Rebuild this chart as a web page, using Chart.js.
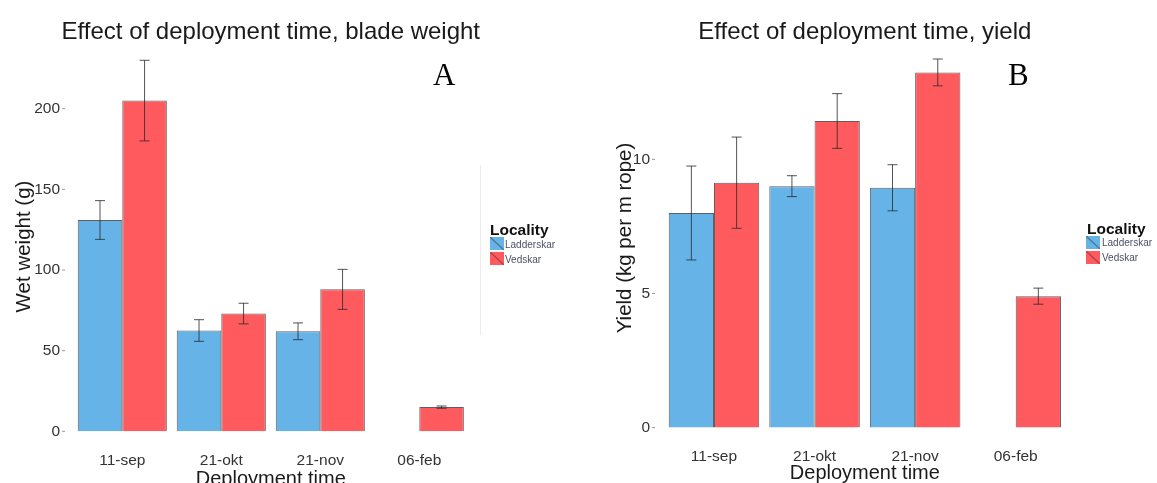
<!DOCTYPE html>
<html>
<head>
<meta charset="utf-8">
<script src="https://cdn.jsdelivr.net/npm/chart.js@4"></script>
<style>
  body { margin: 0; background: #fff; overflow: hidden; }
  #wrap { position: relative; width: 1157px; height: 483px; overflow: hidden; background: #fff; }
  canvas { position: absolute; top: 0; }
  .letter { position: absolute; font-family: "Liberation Serif", "DejaVu Serif", serif; font-size: 31px; line-height: 31px; color: #000; }
  .legTitle { position: absolute; font-family: "Liberation Sans", Arial, sans-serif; font-weight: bold; font-size: 15.5px; line-height: 15px; color: #111; }
  .key { position: absolute; width: 14px; height: 13px; }
  .legText { position: absolute; font-family: "Liberation Sans", Arial, sans-serif; font-size: 10px; line-height: 10px; color: #4a4f66; }
</style>
</head>
<body>
<div id="wrap">
  <canvas id="chartA" width="580" height="510" style="left:0"></canvas>
  <canvas id="chartB" width="577" height="510" style="left:580px"></canvas>

  <div class="letter" style="left:433px; top:59px">A</div>
  <div class="letter" style="left:1008px; top:59px">B</div>

  <div style="position:absolute; left:480px; top:165px; width:1px; height:170px; background:#ececec"></div>

  <div class="legTitle" style="left:490px; top:222px">Locality</div>
  <div class="key" style="left:490px; top:237px; background:linear-gradient(to top right,#66b3e8 44%,#4d7f9e 48%,#4d7f9e 52%,#66b3e8 56%)"></div>
  <div class="key" style="left:490px; top:252px; background:linear-gradient(to top right,#ff5b5f 44%,#b5454a 48%,#b5454a 52%,#ff5b5f 56%)"></div>
  <div class="legText" style="left:505px; top:240px">Ladderskar</div>
  <div class="legText" style="left:505px; top:255px">Vedskar</div>

  <div class="legTitle" style="left:1087px; top:221px">Locality</div>
  <div class="key" style="left:1086px; top:236px; background:linear-gradient(to top right,#66b3e8 44%,#4d7f9e 48%,#4d7f9e 52%,#66b3e8 56%)"></div>
  <div class="key" style="left:1086px; top:251px; background:linear-gradient(to top right,#ff5b5f 44%,#b5454a 48%,#b5454a 52%,#ff5b5f 56%)"></div>
  <div class="legText" style="left:1102px; top:238px">Ladderskar</div>
  <div class="legText" style="left:1102px; top:253px">Vedskar</div>
</div>

<script>
// deployment dates
const categories = ['11-sep', '21-okt', '21-nov', '06-feb'];

// panel A: wet weight (g)
const weightLadderskar = [131, 62.5, 62, null];
const weightLadderskarErr = [12, 6.7, 5.2, null];
const weightVedskar = [205, 73, 88, 15];
const weightVedskarErr = [25, 6.4, 12.4, 0.7];
const weightTicks = [0, 50, 100, 150, 200];

// panel B: yield (kg per m rope)
const yieldLadderskar = [8.0, 9.0, 8.94, null];
const yieldLadderskarErr = [1.75, 0.39, 0.86, null];
const yieldVedskar = [9.13, 11.43, 13.24, 4.9];
const yieldVedskarErr = [1.7, 1.02, 0.5, 0.3];
const yieldTicks = [0, 5, 10];

const BLUE = '#66b3e8';
const RED = '#ff5b5f';
const FONT = '"Liberation Sans", Arial, sans-serif';

// error bars + small y tick marks
const errorBars = {
  id: 'errorBars',
  afterDatasetsDraw(chart) {
    const ctx = chart.ctx;
    const y = chart.scales.y;
    ctx.save();
    chart.data.datasets.forEach((ds, i) => {
      const meta = chart.getDatasetMeta(i);
      meta.data.forEach((bar, j) => {
        const v = ds.data[j];
        const e = ds.err[j];
        if (v == null || e == null) return;
        const top = y.getPixelForValue(v + e);
        const bot = y.getPixelForValue(v - e);
        ctx.strokeStyle = 'rgba(40,40,40,0.8)';
        ctx.lineWidth = 1;
        ctx.beginPath();
        ctx.moveTo(bar.x, top); ctx.lineTo(bar.x, bot);
        ctx.moveTo(bar.x - 5, top); ctx.lineTo(bar.x + 5, top);
        ctx.moveTo(bar.x - 5, bot); ctx.lineTo(bar.x + 5, bot);
        ctx.stroke();
      });
    });
    const left = chart.chartArea.left;
    const pad = y.options.ticks.padding;
    ctx.strokeStyle = '#999';
    y.ticks.forEach(t => {
      const py = y.getPixelForValue(t.value);
      ctx.beginPath();
      ctx.moveTo(left - pad + 2, py);
      ctx.lineTo(left - pad + 5, py);
      ctx.stroke();
    });
    ctx.restore();
  }
};

function makePanel(id, opts) {
  return new Chart(document.getElementById(id), {
    type: 'bar',
    data: {
      labels: categories,
      datasets: [
        { label: 'Ladderskar', data: opts.blue, err: opts.blueErr, backgroundColor: BLUE,
          borderColor: 'rgba(55,55,55,0.8)', borderWidth: 1 },
        { label: 'Vedskar', data: opts.red, err: opts.redErr, backgroundColor: RED,
          borderColor: 'rgba(55,55,55,0.8)', borderWidth: 1 }
      ]
    },
    options: {
      responsive: false,
      animation: false,
      devicePixelRatio: 1,
      // right padding leaves room for the legend; the blank right axis keeps the title centred on the plot
      layout: { padding: { left: 0, right: opts.padRight, top: 0, bottom: 0 } },
      datasets: { bar: { categoryPercentage: 0.9, barPercentage: 1.0 } },
      plugins: {
        legend: { display: false },
        tooltip: { enabled: false },
        title: {
          display: true,
          text: opts.title,
          color: '#1a1a1a',
          font: { family: FONT, size: 24, weight: 'normal', lineHeight: 1 },
          padding: { top: opts.titleTop, bottom: 0 }
        }
      },
      scales: {
        x: {
          grid: { display: false, drawTicks: false },
          border: { display: false },
          ticks: { color: '#333', font: { family: FONT, size: 15.5 }, padding: opts.xTickPad },
          title: { display: true, text: 'Deployment time', color: '#1a1a1a',
                   font: { family: FONT, size: 20 }, padding: { top: 0, bottom: opts.xTitlePad } },
          afterFit(s) { s.height = opts.xHeight; }
        },
        y: {
          min: opts.min,
          max: opts.max,
          grid: { display: false, drawTicks: false },
          border: { display: false },
          ticks: { color: '#333', font: { family: FONT, size: 15.5 }, padding: opts.yTickPad },
          afterBuildTicks(s) { s.ticks = opts.ticks.map(v => ({ value: v })); },
          title: { display: true, text: opts.yTitle, color: '#1a1a1a',
                   font: { family: FONT, size: 20.5 }, padding: { top: opts.yTitlePad, bottom: 0 } },
          afterFit(s) { s.width = opts.yWidth; }
        },
        spacer: {
          position: 'right',
          grid: { display: false, drawTicks: false },
          border: { display: false },
          ticks: { display: false },
          afterFit(s) { s.width = opts.yWidth; }
        }
      }
    },
    plugins: [errorBars]
  });
}

makePanel('chartA', {
  title: 'Effect of deployment time, blade weight',
  yTitle: 'Wet weight (g)',
  blue: weightLadderskar, blueErr: weightLadderskarErr,
  red: weightVedskar, redErr: weightVedskarErr,
  ticks: weightTicks,
  min: -10.96, max: 240.1,
  padRight: 580 - 468.8 - 72.8, yWidth: 72.8, xHeight: 61,
  titleTop: 20, xTickPad: 2.7, xTitlePad: 19, yTickPad: 12.8, yTitlePad: 11.7
});

makePanel('chartB', {
  title: 'Effect of deployment time, yield',
  yTitle: 'Yield (kg per m rope)',
  blue: yieldLadderskar, blueErr: yieldLadderskarErr,
  red: yieldVedskar, redErr: yieldVedskarErr,
  ticks: yieldTicks,
  min: -0.164, max: 14.30,
  padRight: 577 - 486 - 83.7, yWidth: 83.7, xHeight: 78,
  titleTop: 20, xTickPad: 15.7, xTitlePad: 25, yTickPad: 13.7, yTitlePad: 32.7
});
</script>
</body>
</html>
